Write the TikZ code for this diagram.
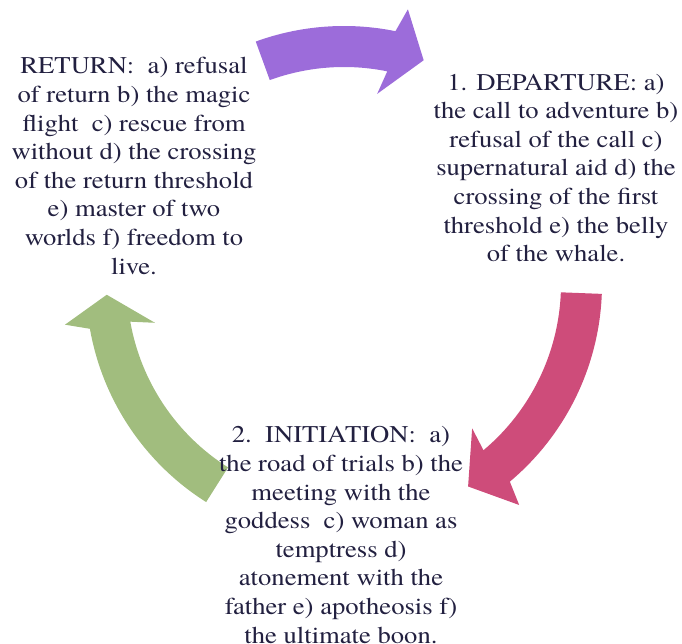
\documentclass[tikz,border=0pt]{standalone}
\usepackage{fontspec}
\setmainfont{texgyretermes-regular.otf}[FakeStretch=1.11]
\definecolor{arrpurple}{RGB}{156,108,218}
\definecolor{arrpink}{RGB}{206,76,122}
\definecolor{arrgreen}{RGB}{161,189,126}
\definecolor{txtnavy}{RGB}{34,32,64}
\tikzset{
  stagetext/.style={align=center, inner sep=0pt, text=txtnavy,
    font={\rmfamily\fontsize{24}{28.6}\selectfont}},
}
\begin{document}
\begin{tikzpicture}[x=1pt,y=1pt]
\useasboundingbox (0,0) rectangle (682,644);
\begin{scope}[shift={(344,360)}]
% purple arrow (top)
\fill[arrpurple] (110:258) arc[start angle=110, end angle=78.5, radius=258]
  -- (76.9:282) -- (70.4:237.5) -- (80.1:193) -- (78.5:217)
  arc[start angle=78.5, end angle=110, radius=217] -- cycle;
% pink arrow (right)
\fill[arrpink] (-2.2:258) arc[start angle=-2.2, end angle=-50, radius=258]
  -- (-51.6:282) -- (-58.5:237.5) -- (-48.4:193) -- (-50:217)
  arc[start angle=-50, end angle=-2.2, radius=217] -- cycle;
% green arrow (left)
\fill[arrgreen] (237.7:258) arc[start angle=237.7, end angle=190, radius=258]
  -- (188.3:282) -- (182.6:237.5) -- (191.6:193) -- (190:217)
  arc[start angle=190, end angle=237.7, radius=217] -- cycle;
\end{scope}
\node[stagetext] (ret) at (134,478) {RETURN:\ \ a) refusal\\of return b) the magic\\flight\ \ c) rescue from\\without d) the crossing\\of the return threshold\\e) master of two\\worlds f) freedom to\\live.};
\node[stagetext] (dep) at (556,476) {1. DEPARTURE: a)\\the call to adventure b)\\refusal of the call c)\\supernatural aid d) the\\crossing of the first\\threshold e) the belly\\of the whale.};
\node[stagetext] (ini) at (341,109) {2.\ \ INITIATION:\ \ a)\\the road of trials b) the\\meeting with the\\goddess\ \ c) woman as\\temptress d)\\atonement with the\\father e) apotheosis f)\\the ultimate boon.};
\end{tikzpicture}
\end{document}
